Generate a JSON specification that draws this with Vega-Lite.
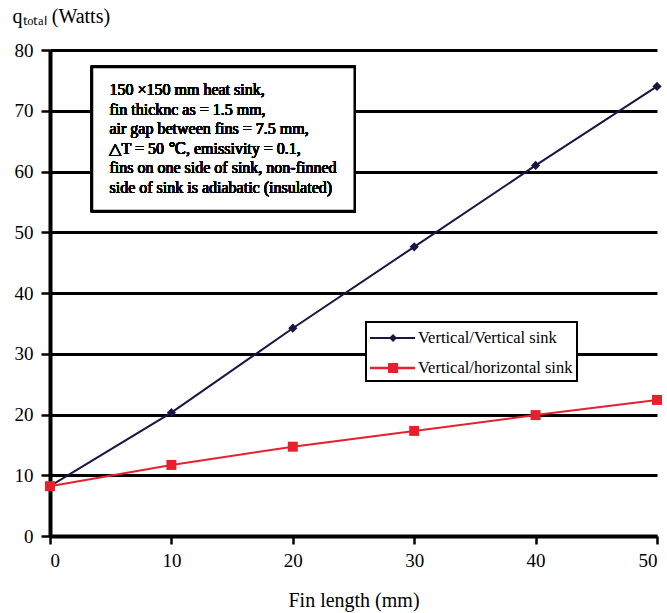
{
  "$schema": "https://vega.github.io/schema/vega-lite/v6.json",
  "width": 607,
  "height": 486,
  "autosize": {"type": "none"},
  "padding": {"left": 50, "top": 50, "right": 10, "bottom": 77},
  "background": "white",
  "config": {
    "font": "Liberation Serif, Times New Roman, serif",
    "view": {"stroke": null},
    "axis": {"labelColor": "black", "titleColor": "black", "labelFont": "Liberation Serif, Times New Roman, serif", "titleFont": "Liberation Serif, Times New Roman, serif"},
    "legend": {"labelFont": "Liberation Serif, Times New Roman, serif", "strokeWidth": 2}
  },
  "data": {
    "values": [
      {"fin": 0, "q": 8.2, "series": "Vertical/Vertical sink"},
      {"fin": 10, "q": 20.3, "series": "Vertical/Vertical sink"},
      {"fin": 20, "q": 34.2, "series": "Vertical/Vertical sink"},
      {"fin": 30, "q": 47.6, "series": "Vertical/Vertical sink"},
      {"fin": 40, "q": 61.0, "series": "Vertical/Vertical sink"},
      {"fin": 50, "q": 74.0, "series": "Vertical/Vertical sink"},
      {"fin": 0, "q": 8.2, "series": "Vertical/horizontal sink"},
      {"fin": 10, "q": 11.7, "series": "Vertical/horizontal sink"},
      {"fin": 20, "q": 14.7, "series": "Vertical/horizontal sink"},
      {"fin": 30, "q": 17.3, "series": "Vertical/horizontal sink"},
      {"fin": 40, "q": 19.9, "series": "Vertical/horizontal sink"},
      {"fin": 50, "q": 22.4, "series": "Vertical/horizontal sink"}
    ]
  },
  "layer": [
    {
      "mark": {"type": "line", "strokeWidth": 2},
      "encoding": {
        "x": {
          "field": "fin", "type": "quantitative",
          "scale": {"domain": [0, 50], "nice": false},
          "axis": {
            "values": [0, 10, 20, 30, 40, 50],
            "title": "Fin length (mm)",
            "titleFontSize": 20, "titleFontWeight": "normal", "titlePadding": 20,
            "labelFontSize": 19, "labelPadding": 7,
            "domainColor": "black", "domainWidth": 4,
            "tickColor": "black", "tickWidth": 2.5, "tickSize": 8,
            "grid": false
          }
        },
        "y": {
          "field": "q", "type": "quantitative",
          "scale": {"domain": [0, 80], "nice": false},
          "axis": {
            "values": [0, 10, 20, 30, 40, 50, 60, 70, 80],
            "title": "qₜₒₜₐₗ (Watts)",
            "titleAngle": 0, "titleAlign": "left", "titleBaseline": "alphabetic",
            "titleX": -38, "titleY": -28,
            "titleFontSize": 20, "titleFontWeight": "normal",
            "labelFontSize": 19, "labelPadding": 8,
            "domainColor": "black", "domainWidth": 4,
            "tickColor": "black", "tickWidth": 2.5, "tickSize": 9,
            "grid": true, "gridColor": "black", "gridWidth": 3, "gridOpacity": 1
          }
        },
        "color": {
          "field": "series", "type": "nominal",
          "scale": {"domain": ["Vertical/Vertical sink", "Vertical/horizontal sink"], "range": ["#1a1545", "#e8202e"]},
          "legend": {
            "title": null,
            "orient": "none", "legendX": 316, "legendY": 272,
            "fillColor": "white", "strokeColor": "black",
            "padding": 4,
            "labelFontSize": 16.5, "labelColor": "black",
            "labelOffset": 24, "rowPadding": 9,
            "symbolSize": 576, "symbolStrokeWidth": 0, "symbolType": "square",
            "encode": {
              "symbols": {
                "update": {
                  "shape": {"signal": "datum.value === 'Vertical/Vertical sink' ? 'M-1,-0.08L2.75,-0.08L2.75,0.08L-1,0.08Z M0.92,-0.33L1.25,0L0.92,0.33L0.59,0Z' : 'M-1,-0.1L2.75,-0.1L2.75,0.1L-1,0.1Z M0.5,-0.42L1.34,-0.42L1.34,0.42L0.5,0.42Z'"},
                  "fill": {"signal": "datum.value === 'Vertical/Vertical sink' ? '#1a1545' : '#e8202e'"},
                  "fillOpacity": {"value": 1},
                  "strokeWidth": {"value": 0}
                }
              }
            }
          }
        }
      }
    },
    {
      "transform": [{"filter": "datum.series === 'Vertical/Vertical sink'"}],
      "mark": {"type": "point", "filled": true, "opacity": 1, "shape": "diamond", "size": 85},
      "encoding": {
        "x": {"field": "fin", "type": "quantitative"},
        "y": {"field": "q", "type": "quantitative"},
        "color": {"field": "series", "type": "nominal"}
      }
    },
    {
      "transform": [{"filter": "datum.series === 'Vertical/horizontal sink'"}],
      "mark": {"type": "point", "filled": true, "opacity": 1, "shape": "square", "size": 100},
      "encoding": {
        "x": {"field": "fin", "type": "quantitative"},
        "y": {"field": "q", "type": "quantitative"},
        "color": {"field": "series", "type": "nominal"}
      }
    },
    {
      "mark": {"type": "rect", "fill": "white", "stroke": "black", "strokeWidth": 2.5},
      "encoding": {
        "x": {"datum": 3.46, "type": "quantitative"},
        "x2": {"datum": 25.1},
        "y": {"datum": 77.2, "type": "quantitative"},
        "y2": {"datum": 53.5}
      }
    },
    {
      "mark": {"type": "text", "align": "left", "baseline": "middle", "fontSize": 16, "fontWeight": "normal", "lineHeight": 19.6, "font": "Liberation Serif, Times New Roman, serif", "fill": "black", "strokeWidth": 0},
      "encoding": {
        "x": {"datum": 4.9, "type": "quantitative"},
        "y": {"datum": 73.4, "type": "quantitative"},
        "text": {"value": ["150 ×150 mm heat sink,", "fin thicknc as = 1.5 mm,", "air gap between fins = 7.5 mm,", "△T = 50 ℃, emissivity = 0.1,", "fins on one side of sink, non-finned", "side of sink is adiabatic (insulated)"]}
      }
    }
  ]
}
